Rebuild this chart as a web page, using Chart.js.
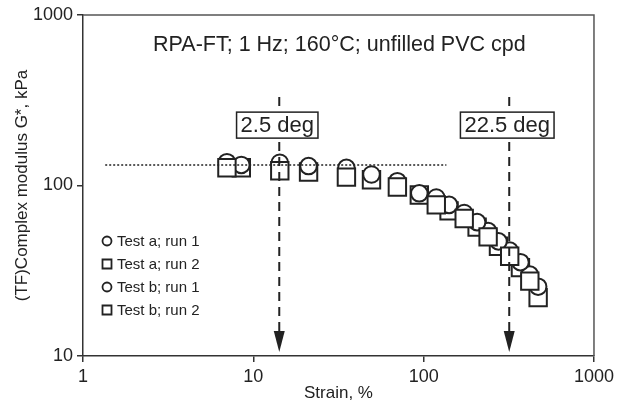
<!DOCTYPE html>
<html>
<head>
<meta charset="utf-8">
<script src="https://cdn.jsdelivr.net/npm/chart.js@4.4.0/dist/chart.umd.min.js"></script>
<style>
  html, body { margin: 0; padding: 0; background: #fff; }
  #wrap { width: 618px; height: 412px; }
</style>
</head>
<body>
<div id="wrap"><canvas id="gstar" width="618" height="412"></canvas></div>
<script>
// strain sweep data (the two tests alternate in strain)
const strainA = [7.0, 14.3, 35.2, 70.1, 118.6, 173, 239, 320, 420];
const strainB = [8.5, 21.1, 49.4, 94.3, 141, 206, 275, 370, 470];
const testARun1 = [137, 136, 127, 106, 85, 69, 54, 41.5, 30];
const testARun2 = [127, 122, 112, 98, 77, 64, 50, 38.5, 27.5];
const testBRun1 = [132, 130, 116, 90, 77, 61, 47, 35.5, 25.5];
const testBRun2 = [127, 120, 108, 88, 71, 57, 44, 33, 22];
const seriesNames = ['Test a; run 1', 'Test a; run 2', 'Test b; run 1', 'Test b; run 2'];

const xTicks = [1, 10, 100, 1000];
const yTicks = [10, 100, 1000];

// plateau line and the two amplitude marks
const plateauX = [1.35, 136];
const plateauY = [132, 132];
const arrowStrains = [14.2, 318];
const arrowLabels = ['2.5 deg', '22.5 deg'];

const FONT = "'Liberation Sans', Arial, sans-serif";
const INK = '#222';

function pts(xs, ys) {
  return xs.map((x, i) => ({ x: x, y: ys[i] }));
}

function markerSet(label, xs, ys, shape, order) {
  return {
    label: label,
    data: pts(xs, ys),
    pointStyle: shape,
    pointRadius: shape === 'rect' ? 12.3 : 8.3,
    pointBorderWidth: 2,
    pointBorderColor: INK,
    pointBackgroundColor: '#fff',
    showLine: false,
    order: order
  };
}

const datasets = [
  // test a: squares over circles, test b: circles over squares
  markerSet(seriesNames[0], strainA, testARun1, 'circle', 4),
  markerSet(seriesNames[1], strainA, testARun2, 'rect', 2),
  markerSet(seriesNames[2], strainB, testBRun1, 'circle', 2),
  markerSet(seriesNames[3], strainB, testBRun2, 'rect', 4),
  {
    label: 'plateau',
    data: pts(plateauX, plateauY),
    showLine: true,
    borderColor: INK,
    borderWidth: 1.6,
    borderDash: [2, 2],
    pointRadius: 0,
    order: 0
  }
];
arrowStrains.forEach((s, i) => {
  datasets.push({
    label: 'arrow' + i,
    data: [{ x: s, y: 330 }, { x: s, y: 11.2 }],
    showLine: true,
    borderColor: INK,
    borderWidth: 2,
    borderDash: [9, 6],
    pointRadius: 0,
    order: 0
  });
});

const extras = {
  id: 'extras',
  afterDatasetsDraw(chart) {
    const { ctx, chartArea: ca, scales: { x, y } } = chart;
    ctx.save();

    // frame on top and right
    ctx.strokeStyle = '#555';
    ctx.lineWidth = 1.5;
    ctx.beginPath();
    ctx.moveTo(ca.left, ca.top);
    ctx.lineTo(ca.right, ca.top);
    ctx.lineTo(ca.right, ca.bottom);
    ctx.stroke();

    // heading inside the plot
    ctx.fillStyle = INK;
    ctx.font = '21.5px ' + FONT;
    ctx.textAlign = 'center';
    ctx.textBaseline = 'middle';
    ctx.fillText('RPA-FT; 1 Hz; 160°C; unfilled PVC cpd', x.getPixelForValue(32), y.getPixelForValue(667));

    // arrow heads + labelled boxes
    arrowStrains.forEach((s, i) => {
      const px = x.getPixelForValue(s);
      const tip = ca.bottom - 4;
      ctx.fillStyle = INK;
      ctx.beginPath();
      ctx.moveTo(px, tip);
      ctx.lineTo(px - 5.5, tip - 21);
      ctx.lineTo(px + 5.5, tip - 21);
      ctx.closePath();
      ctx.fill();

      ctx.font = '22px ' + FONT;
      const w = ctx.measureText(arrowLabels[i]).width + 8;
      const cx = px - 2;
      const cy = y.getPixelForValue(226);
      ctx.fillStyle = '#fff';
      ctx.fillRect(cx - w / 2, cy - 13, w, 26);
      ctx.strokeStyle = INK;
      ctx.lineWidth = 1.5;
      ctx.strokeRect(cx - w / 2, cy - 13, w, 26);
      ctx.fillStyle = INK;
      ctx.fillText(arrowLabels[i], cx, cy + 1);
    });

    // legend
    ctx.font = '15px ' + FONT;
    ctx.textAlign = 'left';
    ctx.lineWidth = 1.8;
    ctx.strokeStyle = INK;
    seriesNames.forEach((name, i) => {
      const my = ca.top + 226 + i * 23;
      const mx = ca.left + 24;
      ctx.beginPath();
      if (i % 2 === 0) {
        ctx.arc(mx, my, 4.5, 0, Math.PI * 2);
      } else {
        ctx.rect(mx - 4.5, my - 4.5, 9, 9);
      }
      ctx.stroke();
      ctx.fillStyle = INK;
      ctx.fillText(name, mx + 10, my + 1);
    });
    ctx.restore();
  }
};

new Chart(document.getElementById('gstar'), {
  type: 'scatter',
  data: { datasets: datasets },
  options: {
    responsive: false,
    animation: false,
    layout: { padding: { top: 15, right: 22, left: 0, bottom: 0 } },
    plugins: { legend: { display: false }, tooltip: { enabled: false } },
    scales: {
      x: {
        type: 'logarithmic',
        min: 1, max: 1000,
        afterBuildTicks: s => { s.ticks = xTicks.map(v => ({ value: v })); },
        afterFit: s => { s.height = 56; },
        ticks: { callback: v => String(v), color: INK, font: { family: FONT, size: 18 }, padding: 4, maxRotation: 0 },
        grid: { drawOnChartArea: false, tickLength: 6, color: '#333', lineWidth: 1.5 },
        border: { color: '#333', width: 1.5 },
        title: { display: true, text: 'Strain, %', color: INK, font: { family: FONT, size: 17 }, padding: { top: 0, bottom: 8 } }
      },
      y: {
        type: 'logarithmic',
        min: 10, max: 1000,
        afterBuildTicks: s => { s.ticks = yTicks.map(v => ({ value: v })); },
        afterFit: s => { s.width = 83; },
        ticks: { callback: v => String(v), color: INK, font: { family: FONT, size: 18 }, padding: 4 },
        grid: { drawOnChartArea: false, tickLength: 6, color: '#333', lineWidth: 1.5 },
        border: { color: '#333', width: 1.5 },
        title: { display: true, text: '(TF)Complex modulus G*, kPa', color: INK, font: { family: FONT, size: 17 }, padding: { top: 12, bottom: 0 } }
      }
    }
  },
  plugins: [extras]
});
</script>
</body>
</html>
